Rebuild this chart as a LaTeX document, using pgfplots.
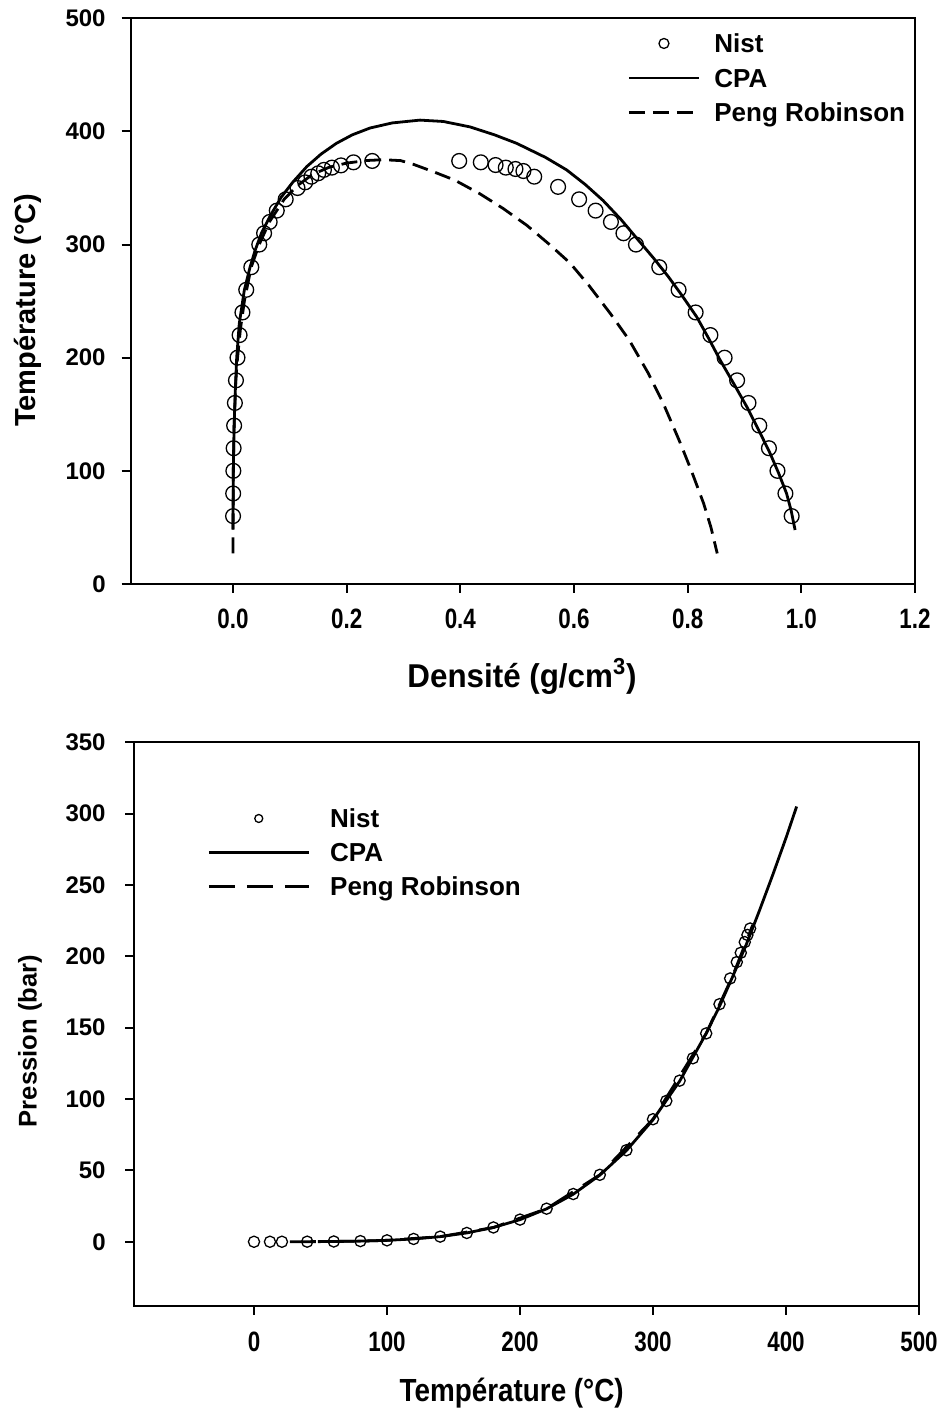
\documentclass[border=0pt]{standalone}
\usepackage{fontspec}
\setmainfont{Liberation Sans}
\newfontfamily\narrowfont[FakeStretch=0.8]{Liberation Sans}
\newfontfamily\labfontA[FakeStretch=0.95]{Liberation Sans}
\newfontfamily\labfontB[FakeStretch=0.87]{Liberation Sans}
\usepackage{pgfplots}
\pgfplotsset{compat=1.18}

\pgfplotsset{
  myaxis/.style={
    scale only axis,
    axis line style={line width=1pt},
    every tick/.style={line width=1pt, black},
    major tick length=4.5pt,
    tick align=outside,
    xtick pos=left, ytick pos=left,
    x tick label style={font=\narrowfont\fontsize{14}{14}\selectfont\bfseries, anchor=north, inner sep=0pt},
    y tick label style={font=\fontsize{12}{12}\selectfont\bfseries, anchor=east, inner sep=0pt},
    legend cell align=left,
  },
  cpa/.style={black, line width=1.4pt, no marks},
  nist/.style={black, only marks, mark=o, mark options={line width=0.65pt}},
  legmarkA/.style={legend image code/.code={\draw[##1, mark size=2.5pt] plot coordinates {(17.5pt,0pt)};}},
  leglineA/.style={legend image code/.code={\draw[##1] (0pt,0pt) -- (35pt,0pt);}},
  legmarkB/.style={legend image code/.code={\draw[##1, mark size=2pt] plot coordinates {(25pt,0pt)};}},
  leglineB/.style={legend image code/.code={\draw[##1] (0pt,0pt) -- (50pt,0pt);}},
}

\begin{document}
\begin{tikzpicture}
\useasboundingbox (0,0) rectangle (469.5pt,708.5pt);

% ---------------- top: density ----------------
\begin{axis}[myaxis,
  at={(65.35pt,416.5pt)}, anchor=south west,
  width=392.15pt, height=282.85pt,
  xmin=-0.18, xmax=1.2, ymin=0, ymax=500,
  xtick={0,0.2,0.4,0.6,0.8,1.0,1.2},
  xticklabels={0.0,0.2,0.4,0.6,0.8,1.0,1.2},
  ytick={0,100,200,300,400,500},
  yticklabels={0,100,200,300,400,500},
  x tick label style={yshift=-8pt},
  y tick label style={xshift=-7.85pt},
  xlabel={Densité (g/cm\textsuperscript{3})},
  ylabel={Température (°C)},
  every axis x label/.style={at={(axis description cs:0.499,-0.163)}, anchor=center, font=\labfontA\fontsize{16.5}{16.5}\selectfont\bfseries},
  every axis y label/.style={at={(axis description cs:-0.131,0.484)}, anchor=center, rotate=90, font=\fontsize{14.5}{14.5}\selectfont\bfseries},
  legend style={draw=none, fill=none, at={(axis description cs:0.633,0.973)}, anchor=north west,
    inner sep=0pt, row sep=7.75pt, font=\fontsize{13}{13}\selectfont\bfseries,
    nodes={inner sep=0pt, text height=9.5pt, text depth=0pt},
    /tikz/every odd column/.append style={column sep=7pt}},
]
\addplot[nist, mark size=3.7pt, legmarkA]
  table {
x y
0.0001 60
0.0003 80
0.0006 100
0.0011 120
0.0020 140
0.0033 160
0.0052 180
0.0079 200
0.0116 220
0.0166 240
0.0233 260
0.0322 280
0.0462 300
0.0547 310
0.0645 320
0.0770 330
0.0927 340
0.1135 350
0.1270 355
0.1380 360
0.1500 363
0.1600 366
0.1740 368
0.1900 370
0.2120 372.7
0.2450 373.9
0.3980 373.9
0.4360 372.7
0.4620 370.3
0.4800 368
0.4970 366.8
0.5110 365
0.5300 360
0.5720 351
0.6090 340
0.6380 330
0.6650 320
0.6870 310
0.7090 300
0.7500 280
0.7840 260
0.8140 240
0.8400 220
0.8650 200
0.8870 180
0.9070 160
0.9260 140
0.9430 120
0.9580 100
0.9720 80
0.9830 60
};
\addlegendentry{Nist}
\addplot[cpa, leglineA]
  table {
x y
0.0000 48
0.0003 80
0.0008 110
0.0020 140
0.0040 170
0.0065 200
0.0110 230
0.0200 260
0.0300 280
0.0390 295
0.0500 310
0.0650 325
0.0850 342
0.1050 355
0.1300 369
0.1550 380
0.1820 389.5
0.2100 397
0.2410 403
0.2800 407.5
0.3290 410
0.3700 408.8
0.4170 404
0.4600 397
0.4990 389.5
0.5500 377
0.5870 366
0.6200 353
0.6510 339
0.6830 322
0.7130 304
0.7400 288
0.7660 271.6
0.7900 255
0.8160 236
0.8370 217
0.8570 198
0.8800 178
0.9040 156.7
0.9250 136
0.9450 115.5
0.9600 98
0.9740 80
0.9820 65
0.9890 47.7
};
\addlegendentry{CPA}
\addplot[black, line width=1.4pt, no marks, dash pattern=on 8pt off 4pt, leglineA]
  table {
x y
0.0000 27
0.0002 60
0.0006 100
0.0020 140
0.0050 180
0.0080 200
0.0130 225
0.0200 250
0.0320 280
0.0460 300
0.0640 320
0.0900 340
0.1130 352
0.1400 362
0.1700 368.5
0.2000 372
0.2350 374.3
0.2650 375
0.2950 374.2
0.3170 371
0.3520 364.5
0.3900 357
0.4340 345
0.4750 332
0.5170 317
0.5570 300
0.5930 283.7
0.6260 264
0.6640 239
0.6970 215.7
0.7310 186
0.7570 159.7
0.7850 127
0.8060 100.8
0.8280 71.3
0.8410 50
0.8520 27
};
\addlegendentry{Peng Robinson}
\end{axis}

% ---------------- bottom: pressure ----------------
\begin{axis}[myaxis,
  at={(67.15pt,55.5pt)}, anchor=south west,
  width=392.35pt, height=281.85pt,
  xmin=-90, xmax=500, ymin=-45, ymax=350,
  xtick={0,100,200,300,400,500},
  xticklabels={0,100,200,300,400,500},
  ytick={0,50,100,150,200,250,300,350},
  yticklabels={0,50,100,150,200,250,300,350},
  x tick label style={yshift=-8.5pt},
  y tick label style={xshift=-9.65pt},
  xlabel={Température (°C)},
  ylabel={Pression (bar)},
  every axis x label/.style={at={(axis description cs:0.481,-0.154)}, anchor=center, font=\labfontB\fontsize{16}{16}\selectfont\bfseries},
  every axis y label/.style={at={(axis description cs:-0.133,0.470)}, anchor=center, rotate=90, font=\fontsize{12.8}{12.8}\selectfont\bfseries},
  legend style={draw=none, fill=none, at={(axis description cs:0.0926,0.8824)}, anchor=north west,
    inner sep=0pt, row sep=7.5pt, font=\fontsize{13}{13}\selectfont\bfseries,
    nodes={inner sep=0pt, text height=9.5pt, text depth=0pt},
    /tikz/every odd column/.append style={column sep=10pt}},
]
\addplot[nist, mark size=2.8pt, legmarkB]
  table {
x y
0 0.006
12 0.014
21 0.025
40 0.074
60 0.199
80 0.474
100 1.014
120 1.987
140 3.615
160 6.182
180 10.03
200 15.55
220 23.20
240 33.47
260 46.92
280 64.17
300 85.88
310 98.70
320 112.9
330 128.6
340 146.0
350 166.5
358 184.5
363 196
366 202.5
369 210
371 215
373 219.5
};
\addlegendentry{Nist}
\addplot[cpa, leglineB]
  table {
x y
48 0.11
60 0.20
80 0.47
100 1.00
120 2.00
140 3.60
160 6.20
180 10.0
200 15.5
220 23.1
240 33.3
260 46.7
280 63.9
300 85.5
320 112.5
340 146
350 165
360 186
370 208
380 232
390 257
400 283
408 305
};
\addlegendentry{CPA}
\addplot[black, line width=1.4pt, no marks, dash pattern=on 13pt off 6pt, leglineB]
  table {
x y
27 0.035
40 0.074
60 0.20
80 0.47
100 1.01
140 3.6
180 10.0
220 23.2
260 46.9
300 85.9
340 146
360 186.5
375 222
};
\addlegendentry{Peng Robinson}
\end{axis}
\end{tikzpicture}
\end{document}
